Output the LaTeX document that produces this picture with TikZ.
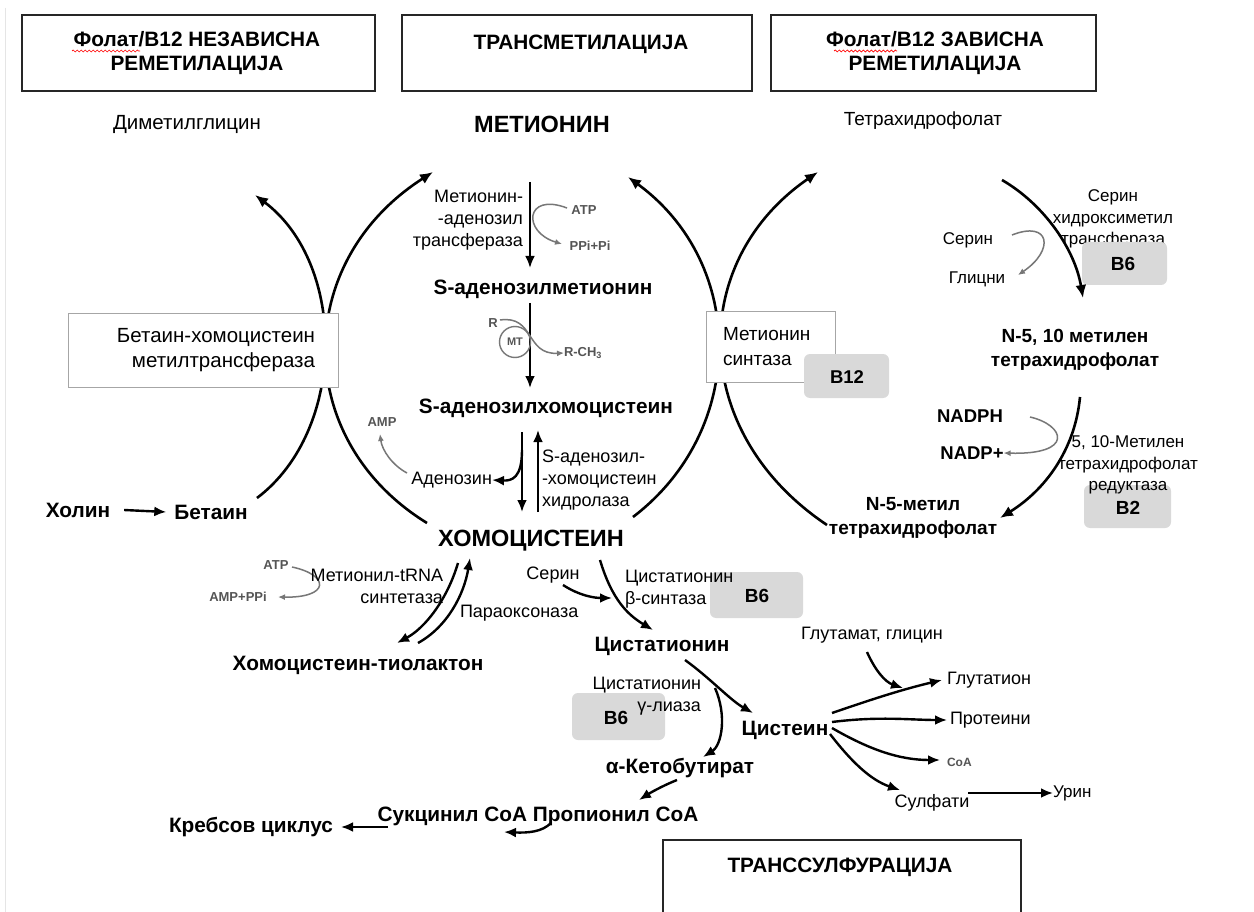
\documentclass[tikz,border=0pt]{standalone}
\usepackage{fontspec}
\setmainfont{Liberation Sans}
\usetikzlibrary{arrows.meta,decorations.pathmorphing}
\definecolor{bgray}{HTML}{D9D9D9}
\definecolor{lgray}{HTML}{555555}
\begin{document}
\begin{tikzpicture}[x=1pt,y=-1pt,
  txt/.style={inner sep=0pt,outer sep=0pt},
  r17/.style={txt,font=\fontsize{17}{21.5}\selectfont},
  r18/.style={txt,font=\fontsize{18}{22}\selectfont},
  r19/.style={txt,font=\fontsize{19}{25}\selectfont},
  r20/.style={txt,font=\fontsize{20.5}{25}\selectfont},
  b18/.style={txt,font=\fontsize{18.5}{22}\selectfont\bfseries},
  b19/.style={txt,font=\fontsize{19}{24}\selectfont\bfseries},
  b20/.style={txt,font=\fontsize{20.8}{24}\selectfont\bfseries},
  b23/.style={txt,font=\fontsize{23.5}{27}\selectfont\bfseries},
  sm/.style={txt,font=\fontsize{13}{15}\selectfont\bfseries,text=lgray},
  hbox/.style={draw=black!85,line width=1.4pt,inner sep=0pt},
  ebox/.style={draw=black!35,line width=1pt,fill=white,inner sep=0pt},
  vbox/.style={fill=bgray,rounded corners=6pt,inner sep=0pt},
  arr/.style={line width=2.4pt,-{Latex[length=12pt,width=10pt]}},
  cyc/.style={line width=2.6pt,-{Latex[length=13pt,width=11pt]}},
  garr/.style={line width=1.5pt,draw=lgray!80,-{Latex[length=7pt,width=6pt]}},
  squig/.style={red,line width=0.7pt,decorate,decoration={snake,amplitude=1pt,segment length=4pt}},
]
\useasboundingbox (0,0) rectangle (1254,912);
\fill[white] (0,0) rectangle (1254,912);
\draw[black!10,line width=1pt] (5,8) -- (5,912);

% ---------- heading boxes ----------
\node[hbox,minimum width=353,minimum height=76] (box1) at (198.5,53) {};
\node[hbox,minimum width=350,minimum height=76] (box2) at (577,53) {};
\node[hbox,minimum width=325,minimum height=76] (box3) at (933.5,53) {};
\draw[black!85,line width=1.4pt] (663,912) -- (663,840) -- (1021,840) -- (1021,912);
\node[b20,align=center] (h1) at (197,53) {Фолат/B12 НЕЗАВИСНА\\РЕМЕТИЛАЦИЈА};
\node[b20] (h2) at (581,44) {ТРАНСМЕТИЛАЦИЈА};
\node[b20,align=center] (h3) at (935,53) {Фолат/B12 ЗАВИСНА\\РЕМЕТИЛАЦИЈА};
\node[b20] (h4) at (840,867) {ТРАНССУЛФУРАЦИЈА};
\draw[squig] (72,51) -- (140,51);
\draw[squig] (834,51) -- (897,51);

% ---------- top metabolites ----------
\node[r20] (dmg) at (187,124) {Диметилглицин};
\node[b23] (met) at (542,124) {МЕТИОНИН};
\node[r19] (thf) at (923,121) {Тетрахидрофолат};

% ---------- cycles (arcs) ----------
\coordinate (c1a) at (257,498); \coordinate (c1b) at (255,195);
\coordinate (c2a) at (427,523); \coordinate (c2b) at (433,172);
\coordinate (c3a) at (633,517); \coordinate (c3b) at (628,177);
\coordinate (c4a) at (827,525); \coordinate (c4b) at (818,172);
\draw[cyc] (c1a) .. controls (347,430) and (347,264) .. (c1b);
\draw[cyc] (c2a) .. controls (292,440) and (292,262) .. (c2b);
\draw[cyc] (c3a) .. controls (747,430) and (747,264) .. (c3b);
\draw[cyc] (c4a) .. controls (688,432) and (688,261) .. (c4b);

% enzyme boxes
\node[ebox,minimum width=270,minimum height=73] (bhmtbox) at (203,350.5) {};
\node[r20,align=right,anchor=east] (bhmt) at (315,350) {Бетаин-хомоцистеин\\метилтрансфераза};
\node[ebox,minimum width=129,minimum height=70] (msbox) at (770.5,347) {};
\node[r19,align=left,anchor=west] (ms) at (723,347) {Метионин\\синтаза};
\node[vbox,minimum width=85,minimum height=44] (b12box) at (846.5,376) {};
\node[b18] (b12) at (847,377) {B12};

% ---------- transmethylation ----------
\coordinate (a1s) at (530,182); \coordinate (a1e) at (530,268);
\draw[arr] (a1s) -- (a1e);
\node[r18,align=right,anchor=east] (mat) at (523,220) {Метионин-\\-аденозил\\трансфераза};
\node[sm] (atp1) at (584,210) {ATP};
\node[sm] (ppi1) at (590,246) {PPi+Pi};
\coordinate (g3s) at (567,208); \coordinate (g3e) at (562,244);
\draw[garr] (g3s) .. controls (525,192) and (522,232) .. (g3e);

\node[b20] (sam) at (543,289) {S-аденозилметионин};
\coordinate (a2s) at (530,303); \coordinate (a2e) at (530,388);
\draw[arr] (a2s) -- (a2e);
\node[sm] (r) at (493,323) {R};
\node[circle,draw=lgray!80,line width=1.4pt,minimum size=31,inner sep=0pt,font=\fontsize{11}{12}\selectfont\bfseries,text=lgray] (mt) at (515,342) {MT};
\node[sm,anchor=west] (rch3) at (564,353) {R-CH\textsubscript{3}};
\coordinate (g4s) at (500,320);
\draw[garr] (g4s) .. controls (535,315) and (525,355) .. (rch3.west);

\node[b20] (sah) at (546,408) {S-аденозилхомоцистеин};
\coordinate (a3s) at (522,432); \coordinate (a3e) at (522,512);
\coordinate (a4s) at (538,512); \coordinate (a4e) at (538,430);
\draw[arr] (a3s) -- (a3e);
\draw[arr] (a4s) -- (a4e);
\node[r18,anchor=east] (aden) at (492,480) {Аденозин};
\coordinate (a3b) at (522,450);
\draw[arr] (a3b) .. controls (522,478) and (512,481) .. (aden.east);
\node[sm] (amp) at (382,422) {AMP};
\coordinate (g5s) at (407,473); \coordinate (g5e) at (380,434);
\draw[garr] (g5s) .. controls (392,465) and (382,450) .. (g5e);
\node[r18,align=left,anchor=west] (sahh) at (542,480) {S-аденозил-\\-хомоцистеин\\хидролаза};

\node[b23] (hcy) at (531,541) {ХОМОЦИСТЕИН};

% ---------- betaine ----------
\node[b20] (holin) at (78,510) {Холин};
\node[b20] (betain) at (211,512) {Бетаин};
\draw[arr] ([xshift=14pt]holin.east) -- ([xshift=-8pt]betain.west);

% ---------- thiolactone ----------
\node[sm] (atp2) at (276,565) {ATP};
\node[sm] (ampppi) at (238,597) {AMP+PPi};
\coordinate (g6s) at (292,567); \coordinate (g6e) at (278,597);
\draw[garr] (g6s) .. controls (330,575) and (330,598) .. (g6e);
\node[r18,align=right,anchor=east] (mtrna) at (443,586) {Метионил-tRNA\\синтетаза};
\node[r18,anchor=west] (parao) at (460,613) {Параоксоназа};
\node[b20] (htl) at (358,665) {Хомоцистеин-тиолактон};
\coordinate (t1s) at (458,563); \coordinate (t1e) at (397,643);
\coordinate (t2s) at (418,643); \coordinate (t2e) at (470,558);
\draw[arr] (t1s) .. controls (447,600) and (425,628) .. (t1e);
\draw[arr] (t2s) .. controls (447,627) and (464,595) .. (t2e);

% ---------- transsulfuration ----------
\node[r18] (ser1) at (553,575) {Серин};
\node[vbox,minimum width=93,minimum height=46] (b6abox) at (756.5,595) {};
\node[b19] (b6a) at (757,596) {B6};
\node[r18,align=left,anchor=west] (cbs) at (625,589) {Цистатионин\\β-синтаза};
\coordinate (s1s) at (600,560); \coordinate (s1e) at (653,630);
\draw[arr] (s1s) .. controls (612,600) and (628,615) .. (s1e);
\coordinate (s2s) at (563,585); \coordinate (s2e) at (612,598);
\draw[arr] (s2s) .. controls (580,596) and (595,598) .. (s2e);

\node[b20] (cysta) at (662,646) {Цистатионин};
\node[vbox,minimum width=93,minimum height=47] (b6bbox) at (618.5,716.5) {};
\node[b19] (b6b) at (616,718) {B6};
\node[r18,align=right,anchor=east] (cgl) at (701,696) {Цистатионин\\γ-лиаза};
\node[b20] (cys) at (785,730) {Цистеин};
\coordinate (s3s) at (685,660); \coordinate (s3e) at (753,713);
\draw[arr] (s3s) .. controls (710,678) and (730,700) .. (s3e);
\coordinate (s4s) at (715,688); \coordinate (s4e) at (703,757);
\draw[arr] (s4s) .. controls (727,715) and (722,745) .. (s4e);

\node[b20] (akb) at (680,768) {α-Кетобутират};
\node[b20] (succ) at (538,816) {Сукцинил СоА Пропионил СоА};
\node[b20] (krebs) at (251,827) {Кребсов циклус};
\coordinate (s5s) at (677,780); \coordinate (s5e) at (639,800);
\draw[arr] (s5s) .. controls (662,786) and (650,793) .. (s5e);
\coordinate (s6s) at (551,823); \coordinate (s6e) at (504,832);
\draw[arr] (s6s) .. controls (542,832) and (528,833) .. (s6e);
\coordinate (s7s) at (388,827); \coordinate (s7e) at (341,827);
\draw[arr] (s7s) -- (s7e);

% cysteine fan
\node[r18] (gg) at (872,635) {Глутамат, глицин};
\node[r18,anchor=west] (glut) at (947,680) {Глутатион};
\node[r18,anchor=west] (prot) at (950,720) {Протеини};
\node[txt,anchor=west,font=\fontsize{12}{14}\selectfont\bfseries,text=lgray] (coa) at (947,762) {CoA};
\node[r18] (sulf) at (932,803) {Сулфати};
\node[r17,anchor=west] (urin) at (1053,793) {Урин};
\coordinate (f0a) at (832,713); \coordinate (f0b) at (832,722);
\coordinate (f0c) at (832,728); \coordinate (f0d) at (830,734);
\coordinate (f1e) at (942,680); \coordinate (f2e) at (947,720);
\coordinate (f3e) at (940,760); \coordinate (f4e) at (900,790);
\draw[arr] (f0a) .. controls (870,700) and (900,690) .. (f1e);
\draw[arr] (f0b) .. controls (880,716) and (910,720) .. (f2e);
\draw[arr] (f0c) .. controls (870,750) and (900,760) .. (f3e);
\draw[arr] (f0d) .. controls (850,760) and (870,780) .. (f4e);
\coordinate (f5s) at (867,652); \coordinate (f5e) at (903,688);
\draw[arr] (f5s) .. controls (875,670) and (885,682) .. (f5e);
\coordinate (f6s) at (968,793);
\draw[arr] (f6s) -- (urin.west);

% ---------- folate cycle ----------
\node[r17,align=center] (shmt) at (1113,219) {Серин\\хидроксиметил\\трансфераза};
\node[vbox,minimum width=85,minimum height=43] (b6cbox) at (1124.5,263.5) {};
\node[b19] (b6c) at (1123,264) {B6};
\node[r17] (ser2) at (968,240) {Серин};
\node[r17] (gly) at (977,279) {Глицни};
\coordinate (p1s) at (1002,180); \coordinate (p1e) at (1083,298);
\draw[cyc] (p1s) .. controls (1045,205) and (1075,250) .. (p1e);
\coordinate (g1s) at (1012,235); \coordinate (g1e) at (1018,275);
\draw[garr] (g1s) .. controls (1050,220) and (1055,250) .. (g1e);

\node[b19,align=center] (mthf) at (1075,349.5) {N-5, 10 метилен\\тетрахидрофолат};
\node[b18] (nadph) at (970,416) {NADPH};
\node[b18] (nadp) at (972,453) {NADP+};
\node[vbox,minimum width=87,minimum height=43] (b2box) at (1127.5,506.5) {};
\node[b19] (b2) at (1128,508) {B2};
\node[r17,align=center] (mthfr) at (1128,465) {5, 10-Метилен\\тетрахидрофолат\\редуктаза};
\coordinate (p2s) at (1080,397); \coordinate (p2e) at (1000,518);
\draw[cyc] (p2s) .. controls (1075,450) and (1045,490) .. (p2e);
\coordinate (g2s) at (1030,417);
\draw[garr] (g2s) .. controls (1065,425) and (1075,455) .. (nadp.east);
\node[b19,align=center] (mthf5) at (913,517.5) {N-5-метил\\тетрахидрофолат};
\end{tikzpicture}
\end{document}
